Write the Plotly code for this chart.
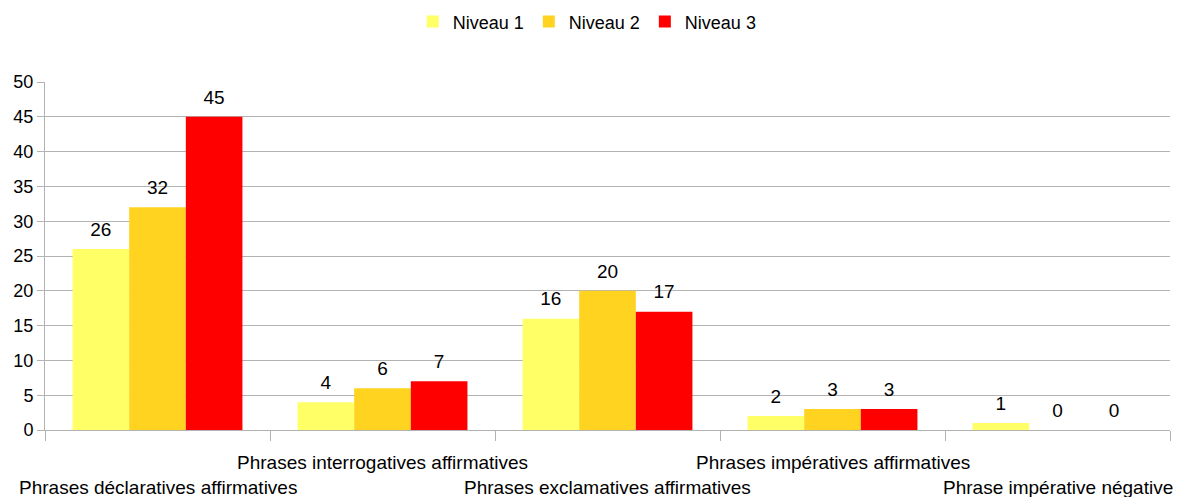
import plotly.graph_objects as go

categories = [
    "Phrases déclaratives affirmatives",
    "Phrases interrogatives affirmatives",
    "Phrases exclamatives affirmatives",
    "Phrases impératives affirmatives",
    "Phrase impérative négative",
]
niveau_1 = [26, 4, 16, 2, 1]
niveau_2 = [32, 6, 20, 3, 0]
niveau_3 = [45, 7, 17, 3, 0]

series = [
    ("Niveau 1", niveau_1, "#ffff66"),
    ("Niveau 2", niveau_2, "#ffd320"),
    ("Niveau 3", niveau_3, "#ff0000"),
]

fig = go.Figure()
for name, vals, color in series:
    fig.add_trace(go.Bar(
        x=categories,
        y=vals,
        name=name,
        marker=dict(color=color, line=dict(width=0)),
        hoverinfo="skip",
    ))

# value labels: invisible grouped markers so the text sits a bit above the bar top
for name, vals, color in series:
    fig.add_trace(go.Scatter(
        x=categories,
        y=vals,
        mode="markers+text",
        marker=dict(size=12, opacity=0),
        text=[str(v) for v in vals],
        textposition="top center",
        textfont=dict(size=19, color="black"),
        showlegend=False,
        hoverinfo="skip",
        cliponaxis=False,
    ))

# staggered category labels
for i, cat in enumerate(categories):
    fig.add_annotation(
        x=cat, y=0, xref="x", yref="paper",
        text=cat, showarrow=False,
        yanchor="top", xanchor="center",
        yshift=-20 if i % 2 else -45,
        font=dict(size=19, color="black"),
    )

fig.update_layout(
    width=1177,
    height=497,
    margin=dict(l=45, r=7, t=82, b=67, autoexpand=False),
    plot_bgcolor="white",
    paper_bgcolor="white",
    font=dict(family="Liberation Sans, Arial, sans-serif", size=19, color="black"),
    barmode="group",
    bargap=0.245,
    bargroupgap=0,
    scattermode="group",
    scattergap=0.245,
    showlegend=True,
    legend=dict(
        orientation="h", x=0.482, xanchor="center",
        yref="container", y=0.956, yanchor="middle",
        font=dict(size=18), itemwidth=30, traceorder="normal",
    ),
    xaxis=dict(
        range=[-0.5, 4.5], automargin=False,
        showticklabels=False,
        ticks="outside", tickson="boundaries", ticklen=10, tickcolor="#b3b3b3",
        showline=True, linecolor="#b3b3b3", linewidth=1,
        showgrid=False,
    ),
    yaxis=dict(
        range=[0, 50], dtick=5, automargin=False,
        showgrid=True, gridcolor="#b3b3b3", gridwidth=1,
        ticks="outside", ticklen=7, tickcolor="#b3b3b3",
        showline=True, linecolor="#b3b3b3", linewidth=1,
        zeroline=False,
        tickfont=dict(size=18),
    ),
)

# drop the default body margin so the figure fills the window exactly
fig.write_html(
    "out.html",
    config={"displayModeBar": False},
    post_script="document.body.style.margin='0';",
)
